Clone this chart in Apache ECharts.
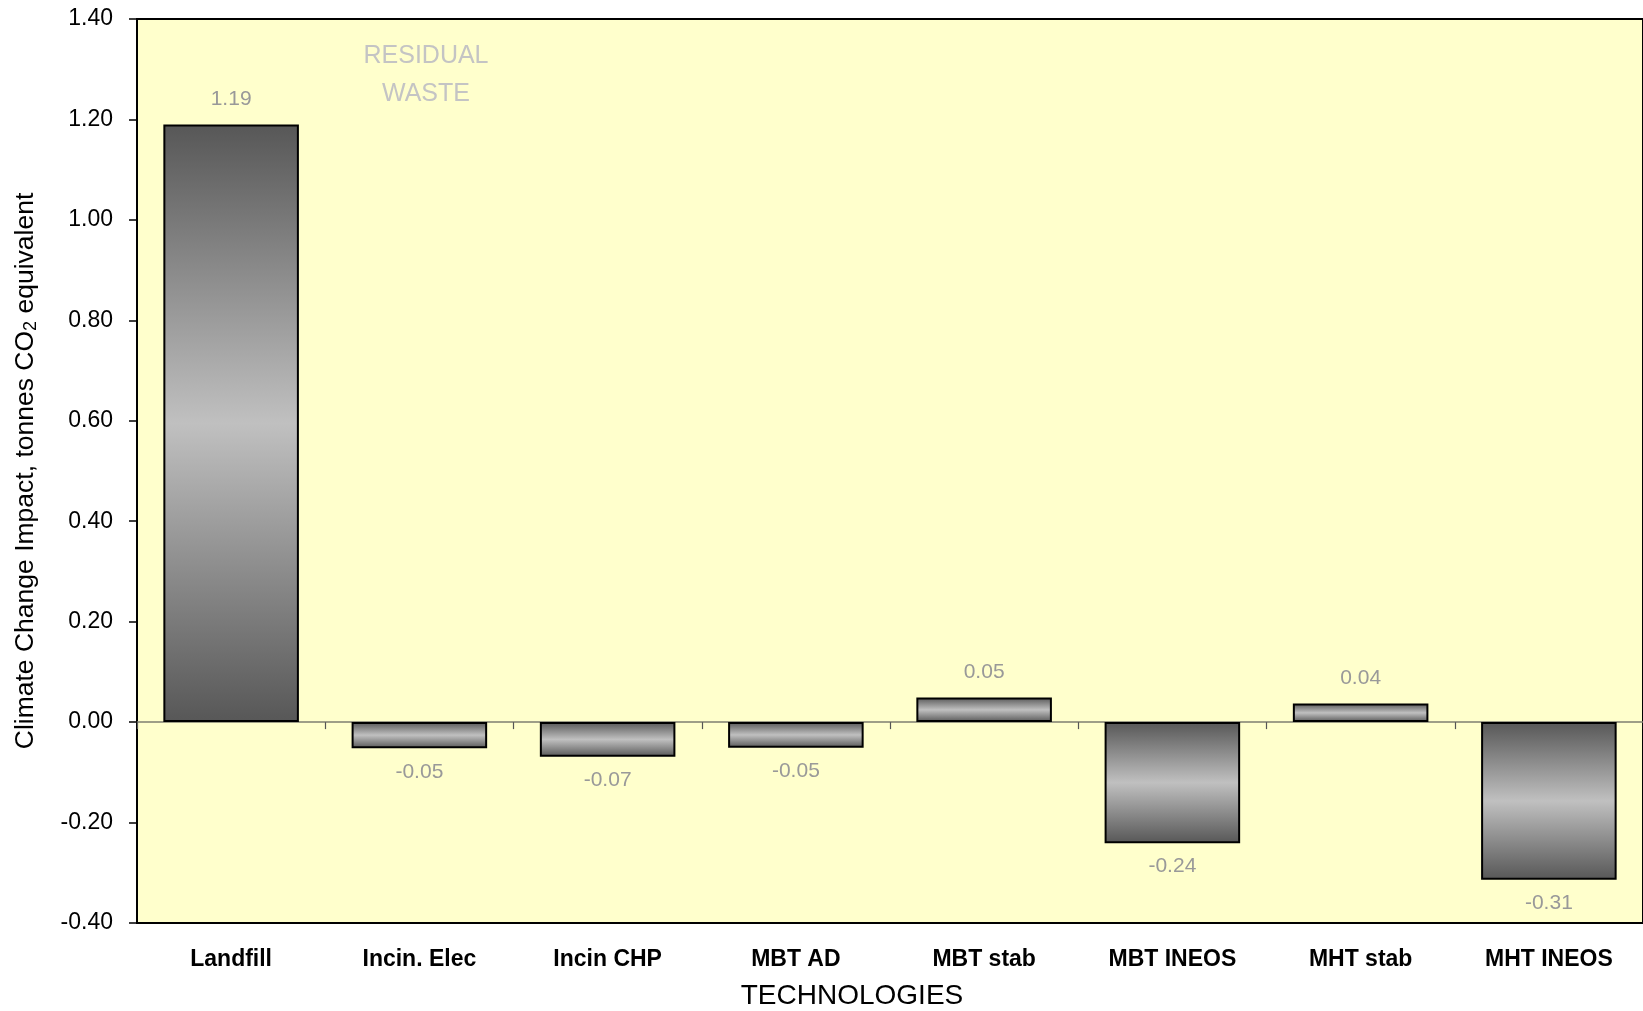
<!DOCTYPE html>
<html>
<head>
<meta charset="utf-8">
<title>Climate Change Impact of Residual Waste Technologies</title>
<script src="https://cdn.jsdelivr.net/npm/echarts@6/dist/echarts.min.js"></script>
<style>
  html, body { margin: 0; padding: 0; background: #ffffff; }
  #chart { width: 1643px; height: 1011px; }
</style>
</head>
<body>
<div id="chart"></div>
<script>
// Treatment technologies for residual waste
const technologies = ['Landfill', 'Incin. Elec', 'Incin CHP', 'MBT AD', 'MBT stab', 'MBT INEOS', 'MHT stab', 'MHT INEOS'];
// Net climate change impact, tonnes CO2 equivalent per tonne of waste
const impacts = [1.19, -0.052, -0.069, -0.051, 0.049, -0.241, 0.037, -0.314];
// Value axis range and step
const yMin = -0.4;
const yMax = 1.4;
const yStep = 0.2;

const FONT = '"Liberation Sans", Arial, Helvetica, sans-serif';

const barFill = {
  type: 'linear', x: 0, y: 0, x2: 0, y2: 1,
  colorStops: [
    { offset: 0, color: '#575757' },
    { offset: 0.5, color: '#c0c0c0' },
    { offset: 1, color: '#575757' }
  ]
};

const chart = echarts.init(document.getElementById('chart'), null, { renderer: 'canvas' });

chart.setOption({
  backgroundColor: '#ffffff',
  animation: false,
  title: [
    {
      text: 'RESIDUAL\nWASTE',
      left: 421, top: 32,
      textAlign: 'center',
      textStyle: { fontFamily: FONT, fontSize: 25, fontWeight: 'normal', color: '#c4c4c4', lineHeight: 38 }
    },
    {
      text: 'TECHNOLOGIES',
      left: 847, top: 977,
      textAlign: 'center',
      textStyle: { fontFamily: FONT, fontSize: 28, fontWeight: 'normal', color: '#000000' }
    }
  ],
  grid: {
    // the panel runs slightly past the right edge of the page
    left: 137, top: 19, width: 1512, height: 904,
    show: true,
    backgroundColor: '#ffffcc',
    borderColor: '#000000',
    borderWidth: 2,
    containLabel: false
  },
  xAxis: [
    {
      // category labels along the bottom edge of the plot
      type: 'category',
      data: technologies,
      position: 'bottom',
      axisLine: { show: false, onZero: false },
      axisTick: { show: false },
      axisLabel: {
        margin: 25,
        fontFamily: FONT, fontSize: 23, fontWeight: 'bold', color: '#000000'
      }
    },
    {
      // baseline at zero with separators between categories
      type: 'category',
      data: technologies,
      position: 'bottom',
      axisLine: { show: true, onZero: true, lineStyle: { color: '#7f7f70', width: 1.5 } },
      axisTick: { show: true, inside: false, length: 7, lineStyle: { color: '#555555', width: 1.2 } },
      axisLabel: { show: false }
    }
  ],
  yAxis: {
    type: 'value',
    min: yMin, max: yMax, interval: yStep,
    name: '{t|Climate Change Impact, tonnes CO}{s|2}{t| equivalent}',
    nameLocation: 'middle',
    nameGap: 97,
    nameRotate: 90,
    nameTextStyle: {
      rich: {
        t: { fontFamily: FONT, fontSize: 26.5, color: '#000000' },
        s: { fontFamily: FONT, fontSize: 18, color: '#000000', padding: [10, 0, 0, 0] }
      }
    },
    axisLine: { show: true, lineStyle: { color: '#000000', width: 2 } },
    axisTick: { show: true, inside: false, length: 8, lineStyle: { color: '#000000', width: 1.5 } },
    splitLine: { show: false },
    axisLabel: {
      margin: 24,
      fontFamily: FONT, fontSize: 23, color: '#000000',
      formatter: v => v.toFixed(2)
    }
  },
  series: [
    {
      type: 'bar',
      xAxisIndex: 0,
      data: impacts.map(v => ({
        value: v,
        label: { position: v >= 0 ? 'top' : 'bottom', distance: v >= 0 ? 15 : 13 }
      })),
      barCategoryGap: '28%',
      itemStyle: { color: barFill, borderColor: '#000000', borderWidth: 2 },
      label: {
        show: true,
        fontFamily: FONT, fontSize: 21, color: '#999999',
        formatter: p => p.value.toFixed(2)
      }
    }
  ]
});
</script>
</body>
</html>
